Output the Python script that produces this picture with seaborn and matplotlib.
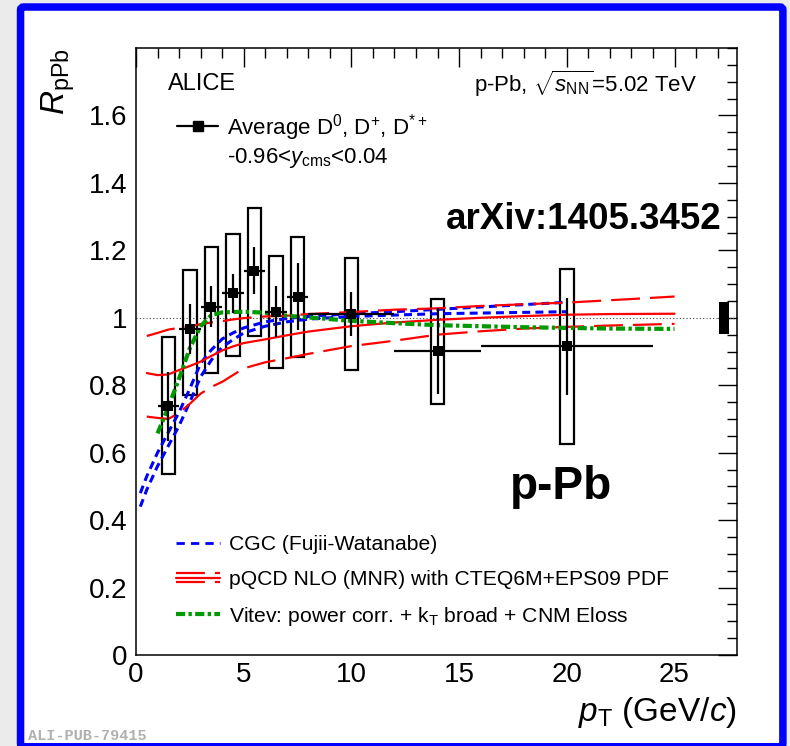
import numpy as np
import pandas as pd
import matplotlib
matplotlib.use("Agg")
import matplotlib.pyplot as plt
import seaborn as sns
from matplotlib.lines import Line2D
from matplotlib.legend_handler import HandlerBase
from matplotlib.patches import FancyBboxPatch
from matplotlib.ticker import MultipleLocator, FuncFormatter

# ---------------- data ----------------
pt = [1.5, 2.5, 3.5, 4.5, 5.5, 6.5, 7.5, 10, 14, 20]
pt_halfwidth = [0.5, 0.5, 0.5, 0.5, 0.5, 0.5, 0.5, 2, 2, 4]
rppb = [0.737, 0.967, 1.033, 1.072, 1.140, 1.018, 1.063, 1.012, 0.901, 0.916]
stat_err = [0.103, 0.075, 0.060, 0.057, 0.070, 0.075, 0.100, 0.065, 0.127, 0.144]
sys_top = [0.943, 1.143, 1.209, 1.248, 1.325, 1.182, 1.239, 1.176, 1.057, 1.146]
sys_bot = [0.537, 0.770, 0.836, 0.887, 0.946, 0.851, 0.884, 0.845, 0.743, 0.627]

norm_x = [27.3]
norm_lo = [0.953]
norm_hi = [1.047]

cgc_x = [0.2, 0.5, 1, 1.5, 2, 2.5, 3, 3.5, 4, 4.5, 5, 6, 7, 8, 10, 12, 14, 16, 18, 20]
cgc_up = [0.48, 0.53, 0.60, 0.66, 0.72, 0.79, 0.865, 0.905, 0.937, 0.955, 0.97, 0.988,
          0.998, 1.004, 1.012, 1.018, 1.025, 1.032, 1.039, 1.046]
cgc_lo = [0.44, 0.49, 0.56, 0.62, 0.68, 0.75, 0.825, 0.875, 0.913, 0.935, 0.955, 0.975,
          0.988, 0.996, 1.004, 1.008, 1.012, 1.014, 1.016, 1.018]

mnr_x = [0.5, 1, 1.5, 2, 2.5, 3, 3.5, 4, 4.5, 5, 6, 7, 8, 10, 12, 14, 16, 18, 20, 22, 25]
mnr_c = [0.836, 0.830, 0.832, 0.845, 0.857, 0.870, 0.887, 0.903, 0.915, 0.925, 0.936, 0.948,
         0.959, 0.975, 0.986, 0.994, 1.000, 1.005, 1.009, 1.011, 1.012]
mnr_up = [0.946, 0.955, 0.965, 0.970, 0.975, 0.981, 0.986, 0.990, 0.995, 0.999, 1.004, 1.006,
          1.011, 1.017, 1.024, 1.028, 1.035, 1.040, 1.045, 1.052, 1.063]
mnr_lo = [0.707, 0.703, 0.700, 0.718, 0.745, 0.775, 0.795, 0.810, 0.830, 0.850, 0.868, 0.880,
          0.893, 0.916, 0.932, 0.950, 0.960, 0.968, 0.973, 0.977, 0.982]

vit_x = [1, 1.5, 2, 2.5, 3, 3.5, 4, 5, 6, 7, 8, 10, 12, 14, 16, 18, 20, 22, 25]
vit_y = [0.657, 0.735, 0.820, 0.910, 0.975, 1.008, 1.016, 1.018, 1.015, 1.006, 1.001, 0.991,
         0.984, 0.978, 0.975, 0.972, 0.970, 0.968, 0.967]

x_ticks = [0, 5, 10, 15, 20, 25]
y_ticks = [0, 0.2, 0.4, 0.6, 0.8, 1.0, 1.2, 1.4, 1.6]

# ---------------- style ----------------
sns.set_theme(style="white")
plt.rcParams['font.family'] = ['Liberation Sans', 'DejaVu Sans']
plt.rcParams['mathtext.fontset'] = 'custom'
plt.rcParams['mathtext.rm'] = 'Liberation Sans'
plt.rcParams['mathtext.it'] = 'Liberation Sans:italic'
plt.rcParams['mathtext.bf'] = 'Liberation Sans:bold'
plt.rcParams['axes.unicode_minus'] = False
plt.rcParams['text.color'] = 'black'
plt.rcParams['legend.labelcolor'] = 'black'

fig = plt.figure(figsize=(7.9, 7.46), dpi=100, facecolor='#ebebeb')
frame = FancyBboxPatch((0.026, -0.001), 0.965, 0.9916,
                       boxstyle="round,pad=0,rounding_size=0.004",
                       transform=fig.transFigure, facecolor='white',
                       edgecolor='#0000ff', linewidth=5.4, zorder=-5)
fig.patches.append(frame)

ax = fig.add_axes([136 / 790, 91 / 746, 601 / 790, 607 / 746])
ax.set_facecolor('white')

BLUE = '#0000ff'
RED = '#ff0000'
GREEN = '#009900'

# reference line
ax.axhline(1.0, color='#444444', linestyle=(0, (1, 2)), linewidth=0.8, zorder=1)

# systematic boxes
ax.bar(pt, [t - b for t, b in zip(sys_top, sys_bot)], bottom=sys_bot, width=0.62,
       fill=False, edgecolor='black', linewidth=1.6, zorder=2)
# normalisation box
ax.bar(norm_x, [h - l for h, l in zip(norm_hi, norm_lo)], bottom=norm_lo, width=0.5,
       color='black', linewidth=0, zorder=2)

# theory curves
cgc_style = dict(color=BLUE, linewidth=2.2, linestyle=(0, (2.6, 1.7)))
sns.lineplot(x=cgc_x, y=cgc_up, ax=ax, zorder=4, **cgc_style)
sns.lineplot(x=cgc_x, y=cgc_lo, ax=ax, zorder=4, **cgc_style)

red_dash = dict(color=RED, linewidth=1.6, linestyle=(0, (13, 4.5)))
sns.lineplot(x=mnr_x, y=mnr_up, ax=ax, zorder=4, **red_dash)
sns.lineplot(x=mnr_x, y=mnr_lo, ax=ax, zorder=4, **red_dash)
sns.lineplot(x=mnr_x, y=mnr_c, ax=ax, zorder=4, color=RED, linewidth=1.6)

vit_style = dict(color=GREEN, linewidth=3.0, linestyle=(0, (2.2, 0.8, 0.8, 0.8)))
sns.lineplot(x=vit_x, y=vit_y, ax=ax, zorder=4, **vit_style)

# data: stat errors + markers
ax.errorbar(pt, rppb, xerr=pt_halfwidth, yerr=stat_err, fmt='none', ecolor='black',
            elinewidth=1.6, capsize=0, zorder=5)
sns.scatterplot(x=pt, y=rppb, ax=ax, marker='s', s=48, color='black', linewidth=0, zorder=6)

# axes
ax.set_xlim(0, 27.9)
ax.set_ylim(0, 1.8)
ax.set_xticks(x_ticks)
ax.set_yticks(y_ticks)
ax.xaxis.set_minor_locator(MultipleLocator(1))
ax.yaxis.set_minor_locator(MultipleLocator(0.05))
fmt = FuncFormatter(lambda v, p: f"{v:g}")
ax.xaxis.set_major_formatter(fmt)
ax.yaxis.set_major_formatter(fmt)
ax.tick_params(which='both', direction='in', top=True, right=True, color='black', width=1.0,
               labelsize=20, labelcolor='black')
ax.tick_params(which='major', length=14)
ax.tick_params(which='minor', length=7)
ax.tick_params(axis='y', pad=6)
ax.tick_params(axis='x', pad=5)
for s in ax.spines.values():
    s.set_color('black')
    s.set_linewidth(1.1)
ax.set_xlabel('')
ax.set_ylabel('')

ax.text(1.0, -0.094, r'$p_{\rm T}$ (GeV/$c$)', transform=ax.transAxes, ha='right', va='center',
        fontsize=24, color='black')
ax.text(-0.13, 1.0, r'$R_{\rm pPb}$', transform=ax.transAxes, ha='center', va='top',
        rotation=90, fontsize=24, color='black')

# annotations
ax.text(0.053, 0.941, 'ALICE', transform=ax.transAxes, ha='left', va='center', fontsize=17,
        color='black')
ax.text(0.933, 0.941, r'p-Pb, $\sqrt{s_{\rm NN}}$=5.02 TeV', transform=ax.transAxes,
        ha='right', va='center', fontsize=16, color='black')
ax.text(0.975, 0.717, 'arXiv:1405.3452', transform=ax.transAxes, ha='right', va='center',
        fontsize=26.5, fontweight='bold', color='black')
ax.text(0.622, 0.277, 'p-Pb', transform=ax.transAxes, ha='left', va='center',
        fontsize=33, fontweight='bold', color='black')

fig.text(0.035, 0.008, 'ALI-PUB-79415', ha='left', va='baseline', fontsize=11,
         family=['Liberation Mono', 'DejaVu Sans Mono'], fontweight='bold', color='#b0b0b0')

# legend 1 (data)
h_data = Line2D([], [], color='black', marker='s', markersize=6.5, linewidth=1.6)
h_blank = Line2D([], [], color='none')
leg1 = ax.legend([h_data, h_blank],
                 ['Average D$^{0}$, D$^{+}$, D$^{*+}$', '-0.96<$y_{\\rm cms}$<0.04'],
                 loc='upper left', bbox_to_anchor=(0.068, 0.895), bbox_transform=ax.transAxes,
                 frameon=False, fontsize=16, handlelength=1.86, handletextpad=0.4,
                 borderpad=0, borderaxespad=0, labelspacing=0.15, labelcolor='black')
ax.add_artist(leg1)


class TripleHandler(HandlerBase):
    def create_artists(self, legend, orig_handle, xdescent, ydescent, width, height,
                       fontsize, trans):
        yc = height / 2 - ydescent
        x0, x1 = -xdescent, width - xdescent
        arts = []
        for dy, ls in [(3.2, (0, (13, 4.5))), (0, '-'), (-3.2, (0, (13, 4.5)))]:
            ln = Line2D([x0, x1], [yc + dy, yc + dy], color=RED, linewidth=1.6, linestyle=ls)
            ln.set_transform(trans)
            arts.append(ln)
        return arts


h_cgc = Line2D([], [], color=BLUE, linewidth=2.0, linestyle=(0, (3.0, 2.2)))
h_mnr = Line2D([], [], color=RED)
h_vit = Line2D([], [], **vit_style)
leg2 = ax.legend([h_cgc, h_mnr, h_vit],
                 ['CGC (Fujii-Watanabe)', 'pQCD NLO (MNR) with CTEQ6M+EPS09 PDF',
                  'Vitev: power corr. + k$_{\\rm T}$ broad + CNM Eloss'],
                 handler_map={h_mnr: TripleHandler()},
                 loc='center left', bbox_to_anchor=(0.0666, 0.121), bbox_transform=ax.transAxes,
                 frameon=False, fontsize=15.2, handlelength=2.1, handletextpad=0.4,
                 borderpad=0, borderaxespad=0, labelspacing=0.75, labelcolor='black')

fig.savefig('out.png', dpi=100, facecolor=fig.get_facecolor())
